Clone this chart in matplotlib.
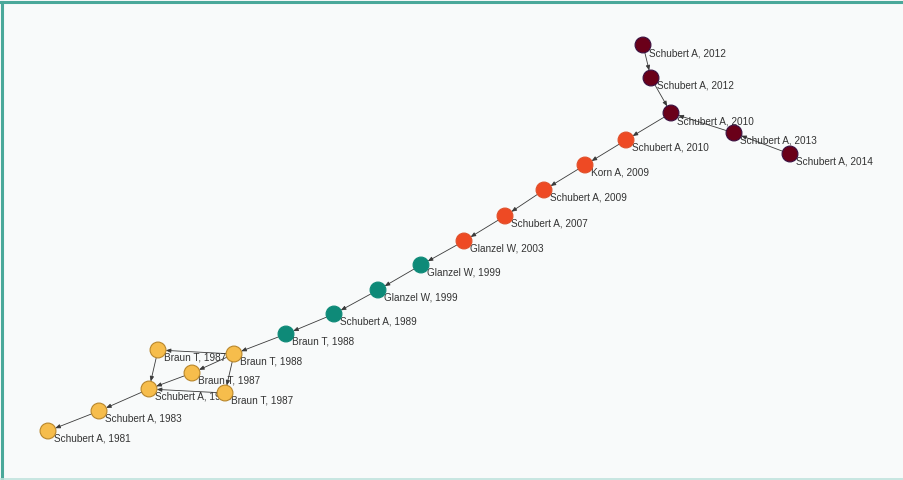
import numpy as np
import matplotlib.pyplot as plt

# nodes of the main path (layout positions in pixels, y down)
labels = ["Schubert A, 2012", "Schubert A, 2012", "Schubert A, 2010", "Schubert A, 2013",
          "Schubert A, 2014", "Schubert A, 2010", "Korn A, 2009", "Schubert A, 2009",
          "Schubert A, 2007", "Glanzel W, 2003", "Glanzel W, 1999", "Glanzel W, 1999",
          "Schubert A, 1989", "Braun T, 1988", "Braun T, 1988", "Braun T, 1987",
          "Braun T, 1987", "Braun T, 1987", "Schubert A, 1985", "Schubert A, 1983",
          "Schubert A, 1981"]
xs = [643, 651, 671, 734, 790, 626, 585, 544, 505, 464, 421, 378, 334, 286, 234,
      158, 192, 225, 149, 99, 48]
ys = [46, 79, 114, 134, 155, 141, 166, 191, 217, 242, 266, 291, 315, 335, 355,
      351, 374, 394, 390, 412, 432]
groups = [0, 0, 0, 0, 0, 1, 1, 1, 1, 1, 2, 2, 2, 2, 3, 3, 3, 3, 3, 3, 3]

# citation edges (source -> target)
edges = [(0, 1), (1, 2), (4, 3), (3, 2), (2, 5), (5, 6), (6, 7), (7, 8), (8, 9),
         (9, 10), (10, 11), (11, 12), (12, 13), (13, 14), (14, 15), (14, 16),
         (14, 17), (15, 18), (16, 18), (17, 18), (18, 19), (19, 20)]

fills = ["#6a0019", "#ee4a24", "#0e8a78", "#f6bd4c"]
edgecols = ["#3a1040", "#e0502a", "#0e8a78", "#b8862a"]

fig = plt.figure(figsize=(9.04, 4.81), dpi=100)
fig.patch.set_facecolor("#f8fafa")
ax = fig.add_axes([0, 0, 1, 1])
ax.set_facecolor("#f8fafa")
ax.set_xlim(0, 904)
ax.set_ylim(481, 0)
ax.axis("off")

# frame
ax.plot([2.5, 2.5], [481, 2.5], color="#4aa89a", lw=2.2, zorder=1)
ax.plot([0, 904], [2.5, 2.5], color="#4aa89a", lw=2.2, zorder=1)
ax.plot([0, 904], [480, 480], color="#bfe3dc", lw=1.2, zorder=1)

for s, t in edges:
    ax.annotate("", xy=(xs[t], ys[t]), xytext=(xs[s], ys[s]),
                arrowprops=dict(arrowstyle="-|>,head_length=0.3,head_width=0.12",
                                color="#3a3a3a", lw=0.6, shrinkA=5.5, shrinkB=5.5),
                zorder=2)

for i in range(len(labels)):
    ax.text(xs[i] + 6, ys[i] + 2, labels[i], fontsize=7.2, family="Liberation Sans",
            color="#333333", va="top", ha="left", zorder=3)

ax.scatter(xs, ys, s=130, c=[fills[g] for g in groups],
           edgecolors=[edgecols[g] for g in groups], linewidths=0.8, zorder=4)

fig.savefig("out.png", dpi=100, facecolor=fig.get_facecolor())
